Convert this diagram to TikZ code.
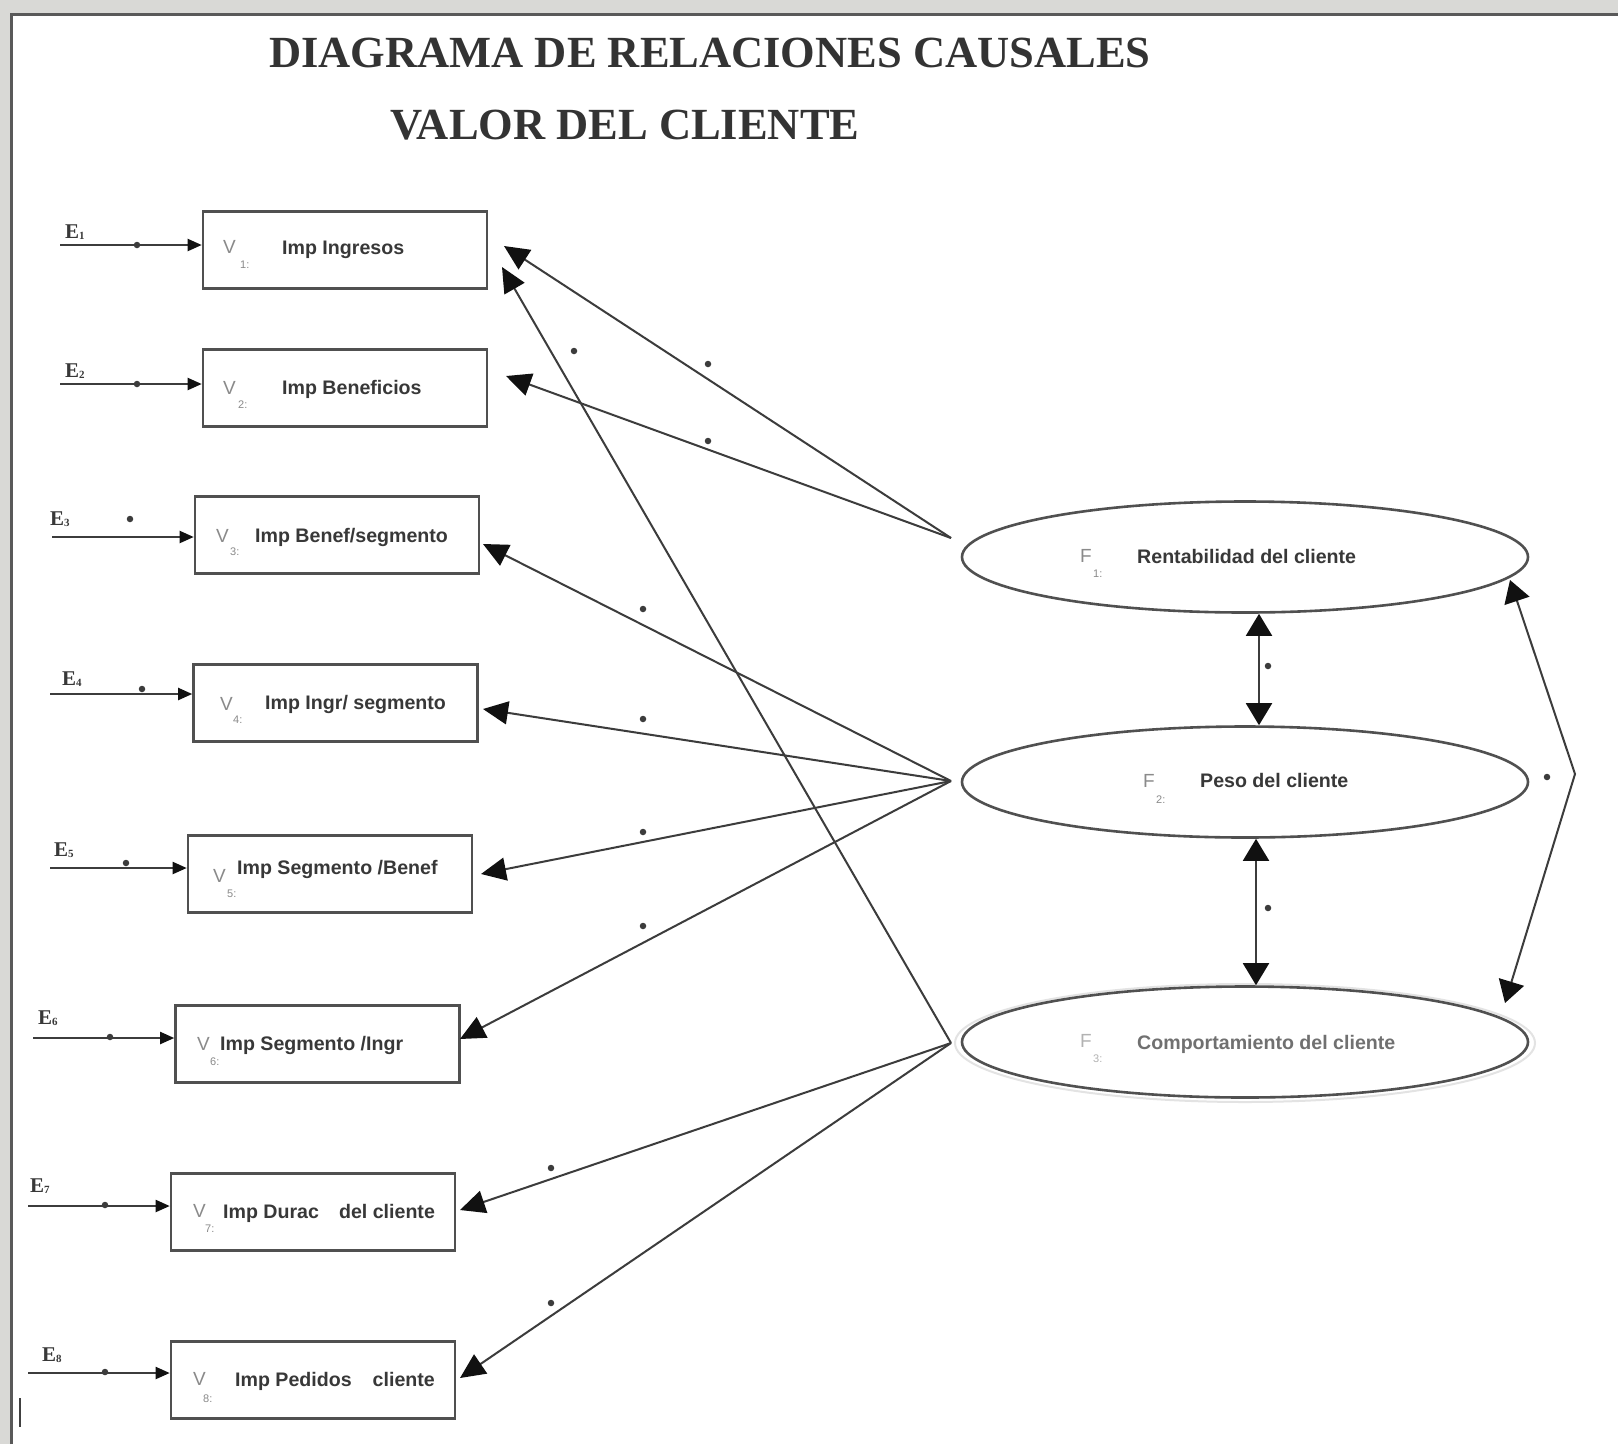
\documentclass[tikz,border=0pt]{standalone}
\usepackage{fontspec}
\setmainfont{Liberation Serif}
\setsansfont{Liberation Sans}
\usetikzlibrary{arrows.meta,shapes.geometric,calc}
\definecolor{linec}{HTML}{3C3C3C}
\definecolor{boxc}{HTML}{505050}
\definecolor{txtc}{HTML}{383838}
\definecolor{vc}{HTML}{8A8A8A}
\definecolor{titc}{HTML}{333333}
\definecolor{lightt}{HTML}{707070}
\definecolor{bgc}{HTML}{D9D9D6}
\definecolor{tipc}{HTML}{111111}
\begin{document}
\begin{tikzpicture}[x=1pt,y=-1pt,
  vbox/.style={draw=boxc, line width=2.6pt, minimum width=284pt, minimum height=77pt, inner sep=0pt, fill=white},
  fell/.style={draw=boxc, ellipse, line width=2.6pt, minimum width=566pt, minimum height=111pt, inner sep=0pt},
  lbl/.style={anchor=base west, inner sep=0pt, text=txtc, font=\sffamily\bfseries\fontsize{19.6}{22}\selectfont},
  vl/.style={anchor=base west, inner sep=0pt, text=vc, font=\sffamily\fontsize{19}{20}\selectfont},
  vs/.style={anchor=base west, inner sep=0pt, text=vc, font=\sffamily\fontsize{11}{12}\selectfont},
  elab/.style={anchor=base west, inner sep=0pt, text=txtc, font=\bfseries\fontsize{21}{22}\selectfont},
  titl/.style={inner sep=0pt, text=titc, font=\bfseries\fontsize{44.5}{50}\selectfont},
  earr/.style={draw=linec, line width=2pt, -{Triangle[length=14pt,width=12pt,color=tipc]}},
  farr/.style={draw=linec, line width=2pt, -{Triangle[length=25pt,width=23pt,color=tipc]}},
  darr/.style={draw=linec, line width=2pt, {Triangle[length=22pt,width=26pt,color=tipc]}-{Triangle[length=22pt,width=26pt,color=tipc]}},
  pdot/.style={circle, fill=linec, inner sep=0pt, minimum size=6.5pt},
]
\useasboundingbox (0,0) rectangle (1618,1444);
\fill[bgc] (0,0) rectangle (1618,1444);
\fill[white] (11,14) rectangle (1618,1444);
\draw[gray!70!black, line width=3pt] (11,1444) -- (11,14) -- (1618,14);

% titles
\node[titl] (title1) at (710,53) {DIAGRAMA DE RELACIONES CAUSALES};
\node[titl] (title2) at (625,125) {VALOR DEL CLIENTE};

% boxes
\node[vbox] (V1) at (345,250) {};
\node[vbox] (V2) at (345,388) {};
\node[vbox] (V3) at (337,535) {};
\node[vbox] (V4) at (335.5,703) {};
\node[vbox] (V5) at (330,874) {};
\node[vbox] (V6) at (317.5,1044) {};
\node[vbox] (V7) at (313,1212) {};
\node[vbox] (V8) at (313,1380) {};

% box texts
\node[vl] (v1V) at (223,253) {V}; \node[vs] (v1s) at (240,268) {1:}; \node[lbl] (v1t) at (282,254) {Imp Ingresos};
\node[vl] (v2V) at (223,394) {V}; \node[vs] (v2s) at (238,408) {2:}; \node[lbl] (v2t) at (282,394) {Imp Beneficios};
\node[vl] (v3V) at (216,542) {V}; \node[vs] (v3s) at (230,555) {3:}; \node[lbl] (v3t) at (255,542) {Imp Benef/segmento};
\node[vl] (v4V) at (220,710) {V}; \node[vs] (v4s) at (233,723) {4:}; \node[lbl] (v4t) at (265,709) {Imp Ingr/ segmento};
\node[vl] (v5V) at (213,882) {V}; \node[vs] (v5s) at (227,897) {5:}; \node[lbl] (v5t) at (237,874) {Imp Segmento /Benef};
\node[vl] (v6V) at (197,1050) {V}; \node[vs] (v6s) at (210,1065) {6:}; \node[lbl] (v6t) at (220,1050) {Imp Segmento /Ingr};
\node[vl] (v7V) at (193,1217) {V}; \node[vs] (v7s) at (205,1232) {7:}; \node[lbl] (v7t) at (223,1218) {Imp Durac\hspace{20pt}del cliente};
\node[vl] (v8V) at (193,1385) {V}; \node[vs] (v8s) at (203,1402) {8:}; \node[lbl] (v8t) at (235,1386) {Imp Pedidos\hspace{21pt}cliente};

% error terms
\newcommand{\esub}[1]{\raisebox{-1.5pt}{\fontsize{11}{11}\selectfont #1}}
\node[elab] (E1) at (65,238) {E\esub{1}};
\node[elab] (E2) at (65,377) {E\esub{2}};
\node[elab] (E3) at (50,525) {E\esub{3}};
\node[elab] (E4) at (62,685) {E\esub{4}};
\node[elab] (E5) at (54,856) {E\esub{5}};
\node[elab] (E6) at (38,1024) {E\esub{6}};
\node[elab] (E7) at (30,1192) {E\esub{7}};
\node[elab] (E8) at (42,1361) {E\esub{8}};

\coordinate (e1) at (60,245);
\coordinate (e2) at (60,384);
\coordinate (e3) at (52,537);
\coordinate (e4) at (50,694);
\coordinate (e5) at (50,868);
\coordinate (e6) at (33,1038);
\coordinate (e7) at (28,1206);
\coordinate (e8) at (28,1373);
\draw[earr] (e1) -- (e1 -| V1.west);
\draw[earr] (e2) -- (e2 -| V2.west);
\draw[earr] (e3) -- (e3 -| V3.west);
\draw[earr] (e4) -- (e4 -| V4.west);
\draw[earr] (e5) -- (e5 -| V5.west);
\draw[earr] (e6) -- (e6 -| V6.west);
\draw[earr] (e7) -- (e7 -| V7.west);
\draw[earr] (e8) -- (e8 -| V8.west);
\node[pdot] (ed1) at (137,245) {};
\node[pdot] (ed2) at (137,384) {};
\node[pdot] (ed3) at (130,519) {};
\node[pdot] (ed4) at (142,689) {};
\node[pdot] (ed5) at (126,863) {};
\node[pdot] (ed6) at (110,1037) {};
\node[pdot] (ed7) at (105,1205) {};
\node[pdot] (ed8) at (105,1372) {};

% factors
\node[draw=gray!22, ellipse, line width=2pt, minimum width=580pt, minimum height=118pt, inner sep=0pt] (F3g) at (1245,1043) {};
\node[fell] (F1) at (1245,557) {};
\node[fell] (F2) at (1245,782) {};
\node[fell] (F3) at (1245,1042) {};

\node[vl] (f1F) at (1080,562) {F}; \node[vs] (f1s) at (1093,577) {1:}; \node[lbl] (f1t) at (1137,563) {Rentabilidad del cliente};
\node[vl] (f2F) at (1143,787) {F}; \node[vs] (f2s) at (1156,803) {2:}; \node[lbl] (f2t) at (1200,787) {Peso del cliente};
\node[vl, text=gray!60] (f3F) at (1080,1047) {F}; \node[vs, text=gray!60] (f3s) at (1093,1062) {3:}; \node[lbl, text=lightt] (f3t) at (1137,1049) {Comportamiento del cliente};

% origins and tips of the loadings
\coordinate (f1o) at (951,538);
\coordinate (f2o) at (951,781);
\coordinate (f3o) at (951,1043);
\coordinate (t11) at (504,246);
\coordinate (t12) at (506,376);
\coordinate (t23) at (483,544);
\coordinate (t24) at (483,709);
\coordinate (t25) at (481,874);
\coordinate (t26) at (460,1039);
\coordinate (t31) at (502,267);
\coordinate (t37) at (460,1210);
\coordinate (t38) at (460,1378);

\draw[farr] (f1o) -- (t11);
\draw[farr] (f1o) -- (t12);
\draw[farr] (f2o) -- (t23);
\draw[farr] (f2o) -- (t24);
\draw[farr] (f2o) -- (t25);
\draw[farr] (f2o) -- (t26);
\draw[farr] (f3o) -- (t31);
\draw[farr] (f3o) -- (t37);
\draw[farr] (f3o) -- (t38);

\node[pdot] (d11) at (708,364) {};
\node[pdot] (d12) at (708,441) {};
\node[pdot] (d23) at (643,609) {};
\node[pdot] (d24) at (643,719) {};
\node[pdot] (d25) at (643,832) {};
\node[pdot] (d26) at (643,926) {};
\node[pdot] (d31) at (574,351) {};
\node[pdot] (d37) at (551,1168) {};
\node[pdot] (d38) at (551,1303) {};

% correlations between factors
\draw[darr] ($(F1.south)+(14,0)$) -- ($(F2.north)+(14,0)$);
\draw[darr] ($(F2.south)+(11,0)$) -- ($(F3.north)+(11,0)$);
\node[pdot] (c12) at (1268,666) {};
\node[pdot] (c23) at (1268,908) {};

\coordinate (a1) at (1510,580);
\coordinate (apex) at (1575,774);
\coordinate (a3) at (1505,1003);
\draw[darr] (a1) -- (apex) -- (a3);
\node[pdot] (c13) at (1547,777) {};

% text cursor
\draw[black!75, line width=2.5pt] (20,1398) -- (20,1427);
\end{tikzpicture}
\end{document}
